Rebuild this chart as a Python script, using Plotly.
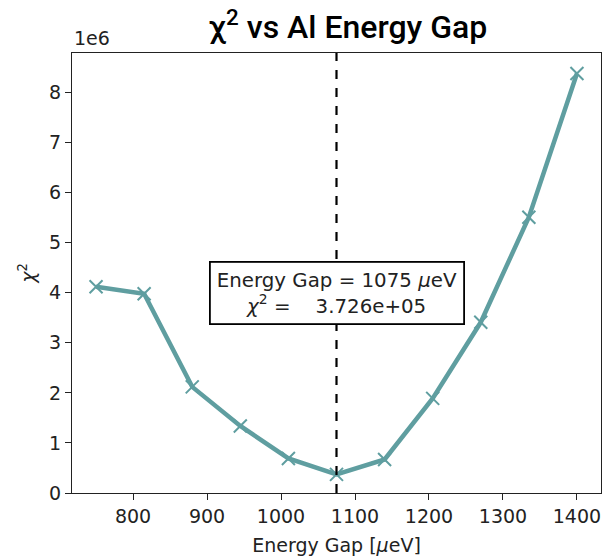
import plotly.graph_objects as go

# Data
energy_gap = [750, 815, 880, 945, 1010, 1075, 1140, 1205, 1270, 1335, 1400]
chi2 = [4.12e6, 3.98e6, 2.12e6, 1.34e6, 0.69e6, 0.3726e6, 0.67e6, 1.89e6, 3.41e6, 5.51e6, 8.38e6]
best_gap = 1075
best_chi2 = 3.726e5
x_ticks = [800, 900, 1000, 1100, 1200, 1300, 1400]
y_tick_vals = [0, 1e6, 2e6, 3e6, 4e6, 5e6, 6e6, 7e6, 8e6]
y_tick_text = ["0", "1", "2", "3", "4", "5", "6", "7", "8"]

COLOR = "#5f9ea0"
TICKFONT = dict(family="DejaVu Sans", size=19, color="#222")

fig = go.Figure()
fig.add_trace(go.Scatter(
    x=energy_gap, y=chi2, mode="lines+markers",
    line=dict(color=COLOR, width=4.5),
    marker=dict(symbol="x-thin", size=13, line=dict(color=COLOR, width=2), color=COLOR),
    showlegend=False,
))

fig.add_shape(type="line", xref="x", yref="paper", x0=best_gap, x1=best_gap, y0=0, y1=1,
              line=dict(color="black", width=2.2, dash="dash"), layer="above")

fig.add_annotation(
    x=best_gap, y=4.0e6, xref="x", yref="y",
    text=f"Energy Gap = {best_gap} <i>μ</i>eV<br><i>χ</i><sup>2</sup> =    {best_chi2:.3e}",
    showarrow=False, align="center",
    font=dict(family="DejaVu Sans", size=19.8, color="#222"),
    bgcolor="white", bordercolor="black", borderwidth=1.8, borderpad=6,
)

fig.add_annotation(
    x=0, y=1, xref="paper", yref="paper", xanchor="left", yanchor="bottom",
    text="1e6", showarrow=False, yshift=2,
    font=TICKFONT,
)

fig.update_layout(
    width=608, height=556,
    margin=dict(l=72, r=7, t=53, b=63),
    paper_bgcolor="white", plot_bgcolor="white",
    title=dict(text="χ<sup>2</sup> vs Al Energy Gap", x=348 / 608, xanchor="center",
               y=1 - 27 / 556, yanchor="middle",
               font=dict(family="Roboto", size=32, color="black", weight=500)),
    xaxis=dict(
        range=[717.5, 1432.5], tickvals=x_ticks, ticks="outside", ticklen=6, tickwidth=1.2,
        tickcolor="#222", showline=True, linecolor="#222", linewidth=1.4, mirror=True,
        showgrid=False, zeroline=False, tickfont=TICKFONT, automargin=False,
        title=dict(text="Energy Gap [<i>μ</i>eV]", font=TICKFONT, standoff=13),
    ),
    yaxis=dict(
        range=[0, 8.79e6], tickvals=y_tick_vals, ticktext=y_tick_text, ticks="outside",
        ticklen=6, tickwidth=1.2, tickcolor="#222", showline=True, linecolor="#222",
        linewidth=1.4, mirror=True, showgrid=False, zeroline=False, tickfont=TICKFONT,
        automargin=False,
        title=dict(text="<i>χ</i><sup>2</sup>", font=TICKFONT, standoff=8),
    ),
)

fig.write_html("out.html")
